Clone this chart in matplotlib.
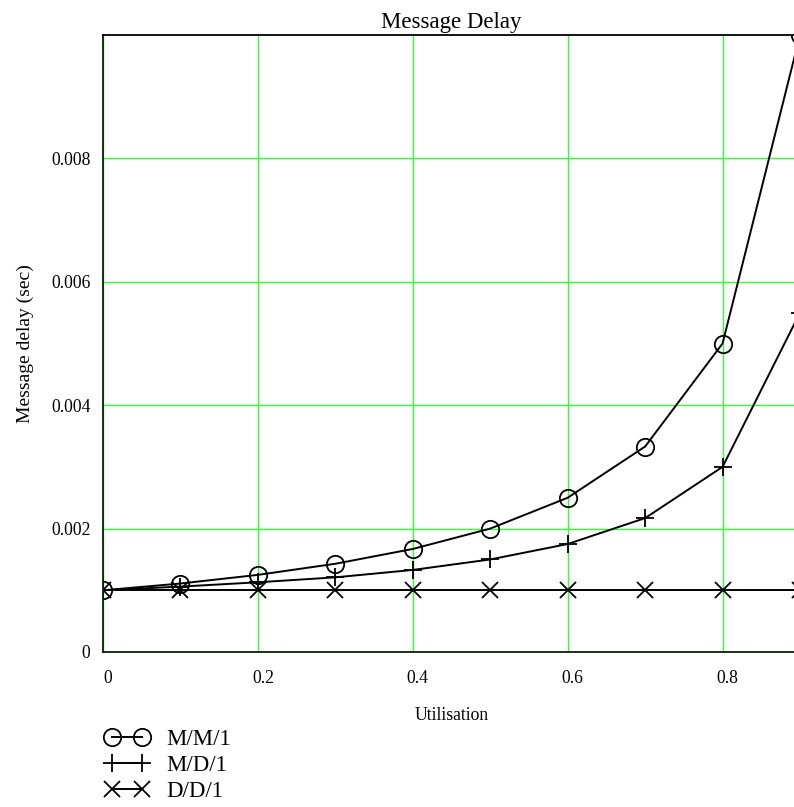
import matplotlib
matplotlib.use('Agg')
import matplotlib.pyplot as plt
from matplotlib.transforms import ScaledTranslation

plt.rcParams['font.family'] = ['Liberation Serif', 'DejaVu Serif']

# queue utilisation and mean message delay (sec) for each model
utilisation = [0.0, 0.1, 0.2, 0.3, 0.4, 0.5, 0.6, 0.7, 0.8, 0.9]
delay_mm1 = [0.001, 0.00111, 0.00125, 0.00143, 0.00167, 0.002, 0.0025, 0.00333, 0.005, 0.01]
delay_md1 = [0.001, 0.00106, 0.00113, 0.00121, 0.00133, 0.0015, 0.00175, 0.00217, 0.003, 0.0055]
delay_dd1 = [0.001, 0.001, 0.001, 0.001, 0.001, 0.001, 0.001, 0.001, 0.001, 0.001]

x_ticks = [0, 0.2, 0.4, 0.6, 0.8]
x_ticklabels = ['0', '0.2', '0.4', '0.6', '0.8']
y_ticks = [0, 0.002, 0.004, 0.006, 0.008]
y_ticklabels = ['0', '0.002', '0.004', '0.006', '0.008']

W, H = 794, 807
fig = plt.figure(figsize=(W / 100, H / 100), dpi=100)
# plot area runs a little past the right edge of the image
ax = fig.add_axes([103 / W, (H - 652) / H, (800 - 103) / W, (652 - 35) / H])

ax.plot(utilisation, delay_mm1, color='black', lw=1.4, marker='o', ms=12.5,
        mfc='none', mec='black', mew=1.3, label='M/M/1')
ax.plot(utilisation, delay_md1, color='black', lw=1.4, marker='+', ms=13,
        mew=1.3, label='M/D/1')
ax.plot(utilisation, delay_dd1, color='black', lw=1.4, marker='x', ms=11,
        mew=1.3, label='D/D/1')

ax.set_xlim(0, 0.9)
ax.set_ylim(0, 0.01)
ax.set_xticks(x_ticks)
ax.set_xticklabels(x_ticklabels)
ax.set_yticks(y_ticks)
ax.set_yticklabels(y_ticklabels)
ax.tick_params(length=0, labelsize=12.7)
ax.tick_params(axis='x', pad=13)
ax.tick_params(axis='y', pad=9)
# x labels sit a few pixels right of their grid lines
shift = ScaledTranslation(5 / 100, 0, fig.dpi_scale_trans)
for lbl in ax.get_xticklabels():
    lbl.set_transform(lbl.get_transform() + shift)

ax.grid(True, color='#33ff33', lw=1.0)
ax.set_axisbelow(True)
for side in ['left', 'bottom']:
    ax.spines[side].set_color('#0a200a')
for side in ['top', 'right']:
    ax.spines[side].set_color('black')
for s in ax.spines.values():
    s.set_linewidth(1.3)

ax.set_title('Message Delay', fontsize=16.5, pad=5)
ax.set_xlabel('Utilisation', fontsize=12.7, labelpad=14)
ax.set_ylabel('Message delay (sec)', fontsize=14, labelpad=12)

ax.legend(loc='upper left', bbox_to_anchor=(105 / W, (H - 729) / H),
          bbox_transform=fig.transFigure, frameon=False, numpoints=2,
          fontsize=16.5, handlelength=1.9, handletextpad=0.77,
          labelspacing=0.22, borderpad=0, borderaxespad=0)

fig.savefig('out.png', dpi=100)
